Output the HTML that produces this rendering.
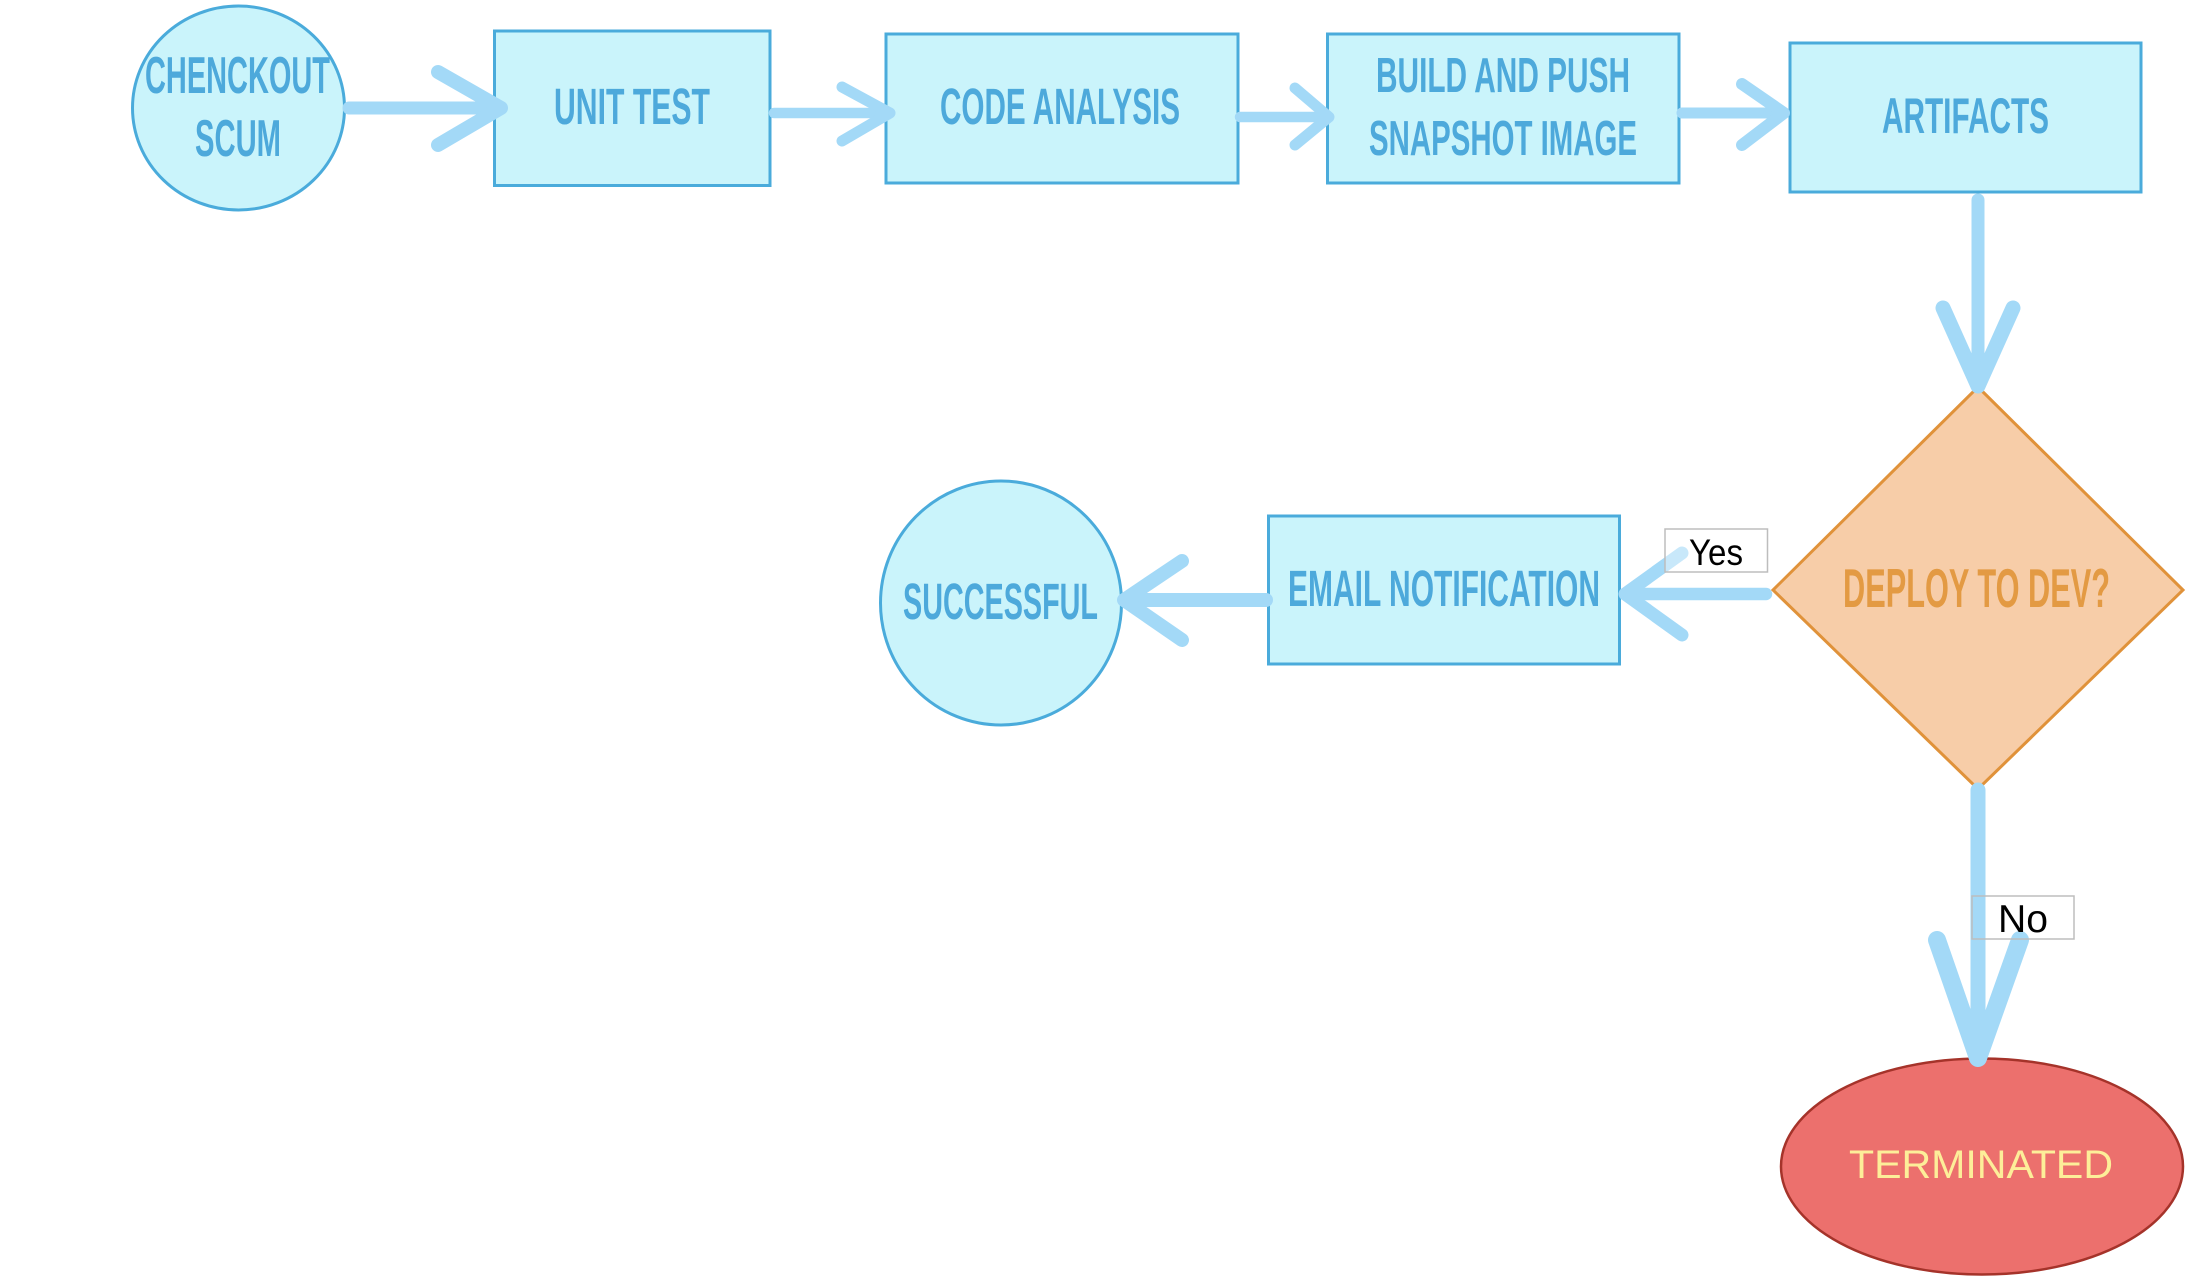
<!DOCTYPE html>
<html>
<head>
<meta charset="utf-8">
<style>
  html,body{margin:0;padding:0;background:#ffffff;}
  svg{display:block;}
  .lbl{font-family:"Liberation Sans",sans-serif;font-weight:bold;fill:#4DA9DB;}
</style>
</head>
<body>
<svg width="2190" height="1278" viewBox="0 0 2190 1278" xmlns="http://www.w3.org/2000/svg">
  <rect x="0" y="0" width="2190" height="1278" fill="#ffffff"/>

  <!-- Nodes top row -->
  <ellipse cx="238.5" cy="108" rx="106" ry="102" fill="#CAF4FB" stroke="#4AABDB" stroke-width="3"/>
  <rect x="494.5" y="31" width="275.5" height="154.5" fill="#CAF4FB" stroke="#4AABDB" stroke-width="3"/>
  <rect x="886" y="34" width="352" height="149" fill="#CAF4FB" stroke="#4AABDB" stroke-width="3"/>
  <rect x="1327.5" y="34" width="351.5" height="149" fill="#CAF4FB" stroke="#4AABDB" stroke-width="3"/>
  <rect x="1790" y="43" width="351" height="149" fill="#CAF4FB" stroke="#4AABDB" stroke-width="3"/>

  <!-- Middle row -->
  <ellipse cx="1001" cy="603" rx="120.5" ry="122" fill="#CAF4FB" stroke="#4AABDB" stroke-width="3"/>
  <rect x="1268.5" y="516" width="351" height="148" fill="#CAF4FB" stroke="#4AABDB" stroke-width="3"/>
  <polygon points="1978,387 2183,590 1978,789 1773,590" fill="#F7CDA8" stroke="#E0923A" stroke-width="3"/>

  <!-- Terminated -->
  <ellipse cx="1982" cy="1166.5" rx="201" ry="108" fill="#EC706D" stroke="#A5332A" stroke-width="2.5"/>

  <!-- Connectors -->
  <g stroke="#A3D9F7" stroke-linecap="round" stroke-linejoin="round" fill="none">
    <!-- 1 -->
    <line x1="349" y1="108" x2="498" y2="108" stroke-width="13"/>
    <polyline points="438,72 501,108 438,145" stroke-width="14"/>
    <!-- 2 -->
    <line x1="774" y1="113" x2="888" y2="113" stroke-width="10.5"/>
    <polyline points="842,87 890,113 842,141" stroke-width="11"/>
    <!-- 3 -->
    <line x1="1240" y1="117" x2="1326" y2="117" stroke-width="10.5"/>
    <polyline points="1295,88 1329,117 1295,145" stroke-width="11"/>
    <!-- 4 -->
    <line x1="1682" y1="113" x2="1782" y2="113" stroke-width="11"/>
    <polyline points="1742,84 1784,113 1742,145" stroke-width="12"/>
    <!-- down to diamond -->
    <line x1="1978" y1="200" x2="1978" y2="384" stroke-width="13"/>
    <polyline points="1943,308 1978,386 2013,308" stroke-width="15"/>
    <!-- email -> successful -->
    <line x1="1266" y1="600" x2="1126" y2="600" stroke-width="14"/>
    <polyline points="1182,561 1124,600 1182,640" stroke-width="14"/>
    <!-- yes: diamond -> email -->
    <line x1="1766" y1="594" x2="1626" y2="594" stroke-width="12.5"/>
    <polyline points="1682,553 1625,594 1682,635" stroke-width="13"/>
    <!-- no: diamond -> terminated -->
    <line x1="1978" y1="790" x2="1978" y2="1055" stroke-width="15"/>
    <polyline points="1937,940 1978,1058 2020,940" stroke-width="18"/>
  </g>

  <!-- Edge labels -->
  <rect x="1665" y="529" width="102.5" height="43" fill="#ffffff" fill-opacity="0.4" stroke="#BDBDBD" stroke-width="1.5"/>
  <text x="1689" y="565" font-family="Liberation Sans, sans-serif" font-size="37" fill="#000000" textLength="54" lengthAdjust="spacingAndGlyphs">Yes</text>
  <rect x="1972" y="896" width="102" height="43" fill="none" stroke="#BDBDBD" stroke-width="1.5"/>
  <text x="1998" y="932" font-family="Liberation Sans, sans-serif" font-size="39" fill="#000000" textLength="50" lengthAdjust="spacingAndGlyphs">No</text>

  <!-- Node labels -->
  <text class="lbl" x="145" y="93" font-size="52" textLength="185" lengthAdjust="spacingAndGlyphs">CHENCKOUT</text>
  <text class="lbl" x="195" y="156" font-size="52" textLength="86" lengthAdjust="spacingAndGlyphs">SCUM</text>
  <text class="lbl" x="554" y="124" font-size="51" textLength="156" lengthAdjust="spacingAndGlyphs">UNIT TEST</text>
  <text class="lbl" x="940" y="124" font-size="51" textLength="240" lengthAdjust="spacingAndGlyphs">CODE ANALYSIS</text>
  <text class="lbl" x="1376" y="92" font-size="49" textLength="254" lengthAdjust="spacingAndGlyphs">BUILD AND PUSH</text>
  <text class="lbl" x="1369" y="155" font-size="49" textLength="268" lengthAdjust="spacingAndGlyphs">SNAPSHOT IMAGE</text>
  <text class="lbl" x="1882" y="133" font-size="50" textLength="167" lengthAdjust="spacingAndGlyphs">ARTIFACTS</text>
  <text class="lbl" x="1288" y="606" font-size="51" textLength="312" lengthAdjust="spacingAndGlyphs">EMAIL NOTIFICATION</text>
  <text class="lbl" x="903" y="619" font-size="51" textLength="195" lengthAdjust="spacingAndGlyphs">SUCCESSFUL</text>
  <text x="1843" y="607" font-family="Liberation Sans, sans-serif" font-weight="bold" font-size="55" fill="#E39A43" textLength="267" lengthAdjust="spacingAndGlyphs">DEPLOY TO DEV?</text>
  <text x="1849" y="1178" font-family="Liberation Sans, sans-serif" font-size="40" fill="#FDEE99" textLength="264" lengthAdjust="spacingAndGlyphs">TERMINATED</text>
</svg>
</body>
</html>
